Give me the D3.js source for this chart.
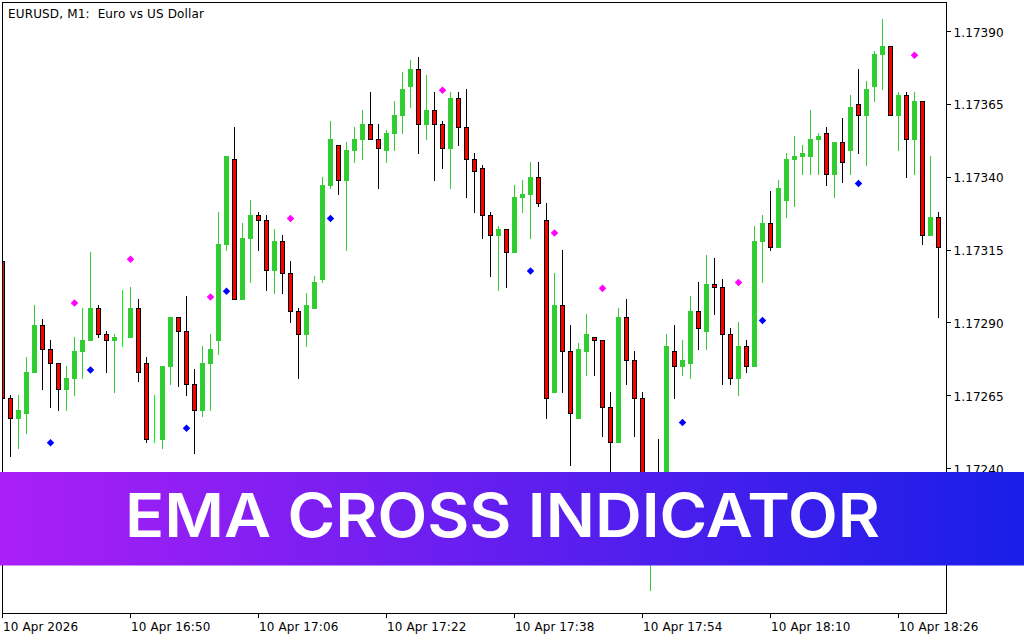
<!DOCTYPE html>
<html>

<head>
  <meta charset="UTF-8">
  <title>EMA Cross Indicator</title>
  <style>
    html, body { margin: 0; padding: 0; background: #fff; }
    svg { display: block; }
    .axis text, .title {
      font-family: "DejaVu Sans", sans-serif;
      font-size: 12px;
      letter-spacing: 0.1px;
      fill: #000;
      white-space: pre;
    }
    .title { letter-spacing: 0; }
    .axis line { stroke: #000; shape-rendering: crispEdges; }
    .banner-text {
      font-family: Inter, sans-serif;
      font-size: 60px;
      font-weight: 600;
      fill: #fff;
    }
  </style>
</head>

<body>
  <svg width="1024" height="640" id="chart"></svg>
  <script src="https://d3js.org/d3.v7.min.js"></script>
  <script>
    var chartTitle = "EURUSD, M1:  Euro vs US Dollar";
    var bannerTitle = "EMA CROSS INDICATOR";

    var priceTicks = [1.17390, 1.17365, 1.17340, 1.17315, 1.17290, 1.17265, 1.17240, 1.17215];
    var timeTickBars = [0, 16, 32, 48, 64, 80, 96, 112];
    var timeTickLabels = ["10 Apr 2026", "10 Apr 16:50", "10 Apr 17:06", "10 Apr 17:22",
      "10 Apr 17:38", "10 Apr 17:54", "10 Apr 18:10", "10 Apr 18:26"];

    // one bar per minute (bars 76, 80-83 run under the banner, guessed)
    var open = [
      1.17311, 1.17264, 1.17257, 1.17259, 1.17273, 1.17289, 1.17281, 1.17276, 1.17267, 1.17271,
      1.17280, 1.17284, 1.17295, 1.17286, 1.17284, 1.17285, 1.17285, 1.17295, 1.17276, 1.17250,
      1.17250, 1.17275, 1.17292, 1.17287, 1.17269, 1.17260, 1.17276, 1.17284, 1.17317, 1.17346,
      1.17298, 1.17319, 1.17327, 1.17325, 1.17308, 1.17318, 1.17307, 1.17294, 1.17286, 1.17295,
      1.17305, 1.17337, 1.17351, 1.17339, 1.17349, 1.17353, 1.17358, 1.17353, 1.17349, 1.17355,
      1.17361, 1.17371, 1.17377, 1.17358, 1.17363, 1.17358, 1.17350, 1.17367, 1.17357, 1.17346,
      1.17343, 1.17327, 1.17320, 1.17322, 1.17314, 1.17333, 1.17334, 1.17340, 1.17325, 1.17266,
      1.17296, 1.17280, 1.17257, 1.17280, 1.17285, 1.17284, 1.17261, 1.17249, 1.17292, 1.17277,
      1.17264, 1.17220, 1.17228, 1.17215, 1.17280, 1.17275, 1.17276, 1.17294, 1.17287, 1.17303,
      1.17302, 1.17286, 1.17271, 1.17282, 1.17275, 1.17318, 1.17324, 1.17316, 1.17332, 1.17346,
      1.17347, 1.17347, 1.17353, 1.17355, 1.17341, 1.17352, 1.17349, 1.17365, 1.17361, 1.17371,
      1.17382, 1.17385, 1.17361, 1.17368, 1.17353, 1.17366, 1.17320, 1.17326];
    var high = [
      1.17315, 1.17265, 1.17265, 1.17278, 1.17296, 1.17291, 1.17284, 1.17276, 1.17275, 1.17285,
      1.17295, 1.17314, 1.17296, 1.17287, 1.17286, 1.17301, 1.17302, 1.17298, 1.17278, 1.17265,
      1.17275, 1.17292, 1.17292, 1.17299, 1.17274, 1.17282, 1.17286, 1.17328, 1.17347, 1.17357,
      1.17324, 1.17332, 1.17328, 1.17327, 1.17322, 1.17320, 1.17311, 1.17295, 1.17300, 1.17306,
      1.17340, 1.17359, 1.17351, 1.17352, 1.17357, 1.17363, 1.17369, 1.17358, 1.17356, 1.17366,
      1.17376, 1.17380, 1.17381, 1.17375, 1.17369, 1.17359, 1.17369, 1.17369, 1.17370, 1.17348,
      1.17344, 1.17328, 1.17323, 1.17322, 1.17337, 1.17339, 1.17345, 1.17345, 1.17331, 1.17307,
      1.17315, 1.17289, 1.17283, 1.17293, 1.17285, 1.17284, 1.17266, 1.17295, 1.17298, 1.17280,
      1.17266, 1.17232, 1.17250, 1.17286, 1.17289, 1.17284, 1.17299, 1.17304, 1.17313, 1.17312,
      1.17305, 1.17288, 1.17290, 1.17284, 1.17323, 1.17327, 1.17335, 1.17339, 1.17348, 1.17354,
      1.17351, 1.17363, 1.17355, 1.17357, 1.17352, 1.17360, 1.17368, 1.17377, 1.17373, 1.17383,
      1.17394, 1.17385, 1.17369, 1.17369, 1.17369, 1.17366, 1.17347, 1.17328];
    var low = [
      1.17260, 1.17244, 1.17247, 1.17252, 1.17273, 1.17267, 1.17261, 1.17260, 1.17260, 1.17265,
      1.17271, 1.17284, 1.17285, 1.17273, 1.17266, 1.17282, 1.17285, 1.17270, 1.17249, 1.17249,
      1.17247, 1.17269, 1.17268, 1.17265, 1.17245, 1.17258, 1.17260, 1.17279, 1.17315, 1.17298,
      1.17298, 1.17304, 1.17315, 1.17301, 1.17300, 1.17300, 1.17290, 1.17271, 1.17282, 1.17295,
      1.17304, 1.17336, 1.17334, 1.17315, 1.17345, 1.17346, 1.17353, 1.17336, 1.17345, 1.17349,
      1.17355, 1.17364, 1.17348, 1.17353, 1.17339, 1.17343, 1.17336, 1.17351, 1.17333, 1.17328,
      1.17319, 1.17306, 1.17301, 1.17302, 1.17314, 1.17328, 1.17319, 1.17330, 1.17257, 1.17266,
      1.17266, 1.17241, 1.17257, 1.17272, 1.17272, 1.17251, 1.17236, 1.17249, 1.17269, 1.17251,
      1.17215, 1.17198, 1.17208, 1.17210, 1.17264, 1.17272, 1.17271, 1.17281, 1.17281, 1.17293,
      1.17269, 1.17269, 1.17265, 1.17273, 1.17275, 1.17304, 1.17315, 1.17316, 1.17326, 1.17330,
      1.17341, 1.17341, 1.17341, 1.17337, 1.17333, 1.17338, 1.17341, 1.17348, 1.17344, 1.17366,
      1.17370, 1.17361, 1.17349, 1.17340, 1.17341, 1.17317, 1.17320, 1.17292];
    var close = [
      1.17264, 1.17257, 1.17260, 1.17273, 1.17289, 1.17281, 1.17276, 1.17267, 1.17271, 1.17280,
      1.17284, 1.17295, 1.17286, 1.17284, 1.17285, 1.17285, 1.17295, 1.17273, 1.17250, 1.17250,
      1.17275, 1.17292, 1.17287, 1.17269, 1.17260, 1.17276, 1.17281, 1.17317, 1.17347, 1.17298,
      1.17319, 1.17327, 1.17325, 1.17308, 1.17318, 1.17307, 1.17294, 1.17286, 1.17296, 1.17304,
      1.17337, 1.17353, 1.17339, 1.17349, 1.17353, 1.17358, 1.17353, 1.17350, 1.17355, 1.17361,
      1.17370, 1.17377, 1.17358, 1.17363, 1.17358, 1.17350, 1.17367, 1.17357, 1.17346, 1.17342,
      1.17327, 1.17320, 1.17322, 1.17314, 1.17333, 1.17334, 1.17340, 1.17331, 1.17264, 1.17296,
      1.17280, 1.17259, 1.17281, 1.17286, 1.17284, 1.17261, 1.17249, 1.17292, 1.17277, 1.17264,
      1.17220, 1.17228, 1.17215, 1.17282, 1.17275, 1.17277, 1.17294, 1.17288, 1.17303, 1.17302,
      1.17286, 1.17271, 1.17282, 1.17275, 1.17318, 1.17324, 1.17316, 1.17336, 1.17346, 1.17347,
      1.17348, 1.17353, 1.17354, 1.17341, 1.17352, 1.17345, 1.17364, 1.17361, 1.17370, 1.17382,
      1.17385, 1.17361, 1.17368, 1.17353, 1.17366, 1.17320, 1.17326, 1.17316];

    // signal arrows: bar index and price
    var sellBars = [9, 16, 26, 36, 55, 69, 75, 92, 114];
    var sellPrices = [1.17297, 1.17312, 1.17299, 1.17326, 1.17370, 1.17321, 1.17302, 1.17304, 1.17382];
    var buyBars = [6, 11, 23, 28, 41, 66, 85, 95, 107];
    var buyPrices = [1.17249, 1.17274, 1.17254, 1.17301, 1.17326, 1.17308, 1.17256, 1.17291, 1.17338];

    var svg = d3.select("#chart"),
      frame = { left: 2.5, top: 2.5, right: 946.5, bottom: 613.5 };

    var x = d3.scaleLinear().domain([0, 117]).range([2.5, 938.5]);
    var y = d3.scaleLinear().domain([1.17390, 1.17240]).range([31.5, 468.5]);

    // snap a price to its pixel row
    function row(p) {
      return Math.floor(y(p));
    }

    svg.append("defs").append("clipPath")
      .attr("id", "clip")
      .append("rect")
      .attr("x", frame.left)
      .attr("y", frame.top)
      .attr("width", frame.right - frame.left)
      .attr("height", frame.bottom - frame.top);

    var defs = svg.select("defs");
    var grad = defs.append("linearGradient").attr("id", "bannerGrad");
    grad.append("stop").attr("offset", "0%").attr("stop-color", "#aa1ff6");
    grad.append("stop").attr("offset", "100%").attr("stop-color", "#191ee8");

    var plot = svg.append("g").attr("clip-path", "url(#clip)");

    var bars = plot.selectAll(".bar").data(d3.range(open.length)).enter()
      .append("g")
      .attr("class", "bar");

    function barColor(i) {
      if (open[i] === close[i]) return "#00ff00";
      return close[i] > open[i] ? "#32cd32" : "#000";
    }

    bars.append("line")
      .attr("x1", function (i) { return x(i); })
      .attr("x2", function (i) { return x(i); })
      .attr("y1", function (i) { return row(high[i]); })
      .attr("y2", function (i) { return row(low[i]) + 1; })
      .attr("stroke", barColor)
      .attr("shape-rendering", "crispEdges");

    bars.append("rect")
      .attr("x", function (i) { return x(i) - 2; })
      .attr("width", 4)
      .attr("y", function (i) { return row(Math.max(open[i], close[i])) + 0.5; })
      .attr("height", function (i) { return row(Math.min(open[i], close[i])) - row(Math.max(open[i], close[i])); })
      .attr("fill", function (i) { return close[i] < open[i] ? "#ff0000" : barColor(i); })
      .attr("stroke", barColor)
      .attr("shape-rendering", "crispEdges");

    var diamond = d3.symbol().type(d3.symbolDiamond2).size(36);

    plot.selectAll(".sell").data(sellBars).enter()
      .append("path")
      .attr("class", "sell")
      .attr("d", diamond)
      .attr("fill", "#ff00ff")
      .attr("transform", function (d, i) { return "translate(" + x(d) + "," + (y(sellPrices[i]) + 0.5) + ")"; });

    plot.selectAll(".buy").data(buyBars).enter()
      .append("path")
      .attr("class", "buy")
      .attr("d", diamond)
      .attr("fill", "#0000ff")
      .attr("transform", function (d, i) { return "translate(" + x(d) + "," + (y(buyPrices[i]) + 0.5) + ")"; });

    svg.append("rect")
      .attr("x", frame.left)
      .attr("y", frame.top)
      .attr("width", frame.right - frame.left)
      .attr("height", frame.bottom - frame.top)
      .attr("fill", "none")
      .attr("stroke", "#000")
      .attr("shape-rendering", "crispEdges");

    var yAxis = d3.axisRight(y)
      .tickValues(priceTicks)
      .tickSize(4)
      .tickPadding(3)
      .offset(0)
      .tickFormat(d3.format(".5f"));
    var yAxisG = svg.append("g")
      .attr("class", "axis")
      .attr("transform", "translate(" + frame.right + ",0)")
      .call(yAxis);
    yAxisG.select(".domain").remove();
    yAxisG.selectAll("text").attr("dy", "5px");
    yAxisG.attr("font-family", null).attr("font-size", null);

    var xAxis = d3.axisBottom(x)
      .tickValues(timeTickBars)
      .tickSize(4)
      .offset(0)
      .tickFormat(function (d, i) { return timeTickLabels[i]; });
    var xAxisG = svg.append("g")
      .attr("class", "axis")
      .attr("transform", "translate(0," + frame.bottom + ")")
      .call(xAxis);
    xAxisG.select(".domain").remove();
    xAxisG.attr("font-family", null).attr("font-size", null);
    xAxisG.selectAll("text")
      .attr("text-anchor", "start")
      .attr("x", 0.5)
      .attr("y", 17)
      .attr("dy", 0);

    svg.append("text")
      .attr("class", "title")
      .attr("x", 8)
      .attr("y", 17.5)
      .attr("textLength", 196)
      .text(chartTitle);

    svg.append("rect")
      .attr("x", 0)
      .attr("y", 472)
      .attr("width", 1024)
      .attr("height", 93.5)
      .attr("fill", "url(#bannerGrad)");

    svg.append("text")
      .attr("class", "banner-text")
      .attr("x", 125)
      .attr("y", 537)
      .attr("textLength", 755)
      .attr("lengthAdjust", "spacingAndGlyphs")
      .text(bannerTitle);
  </script>
</body>

</html>
